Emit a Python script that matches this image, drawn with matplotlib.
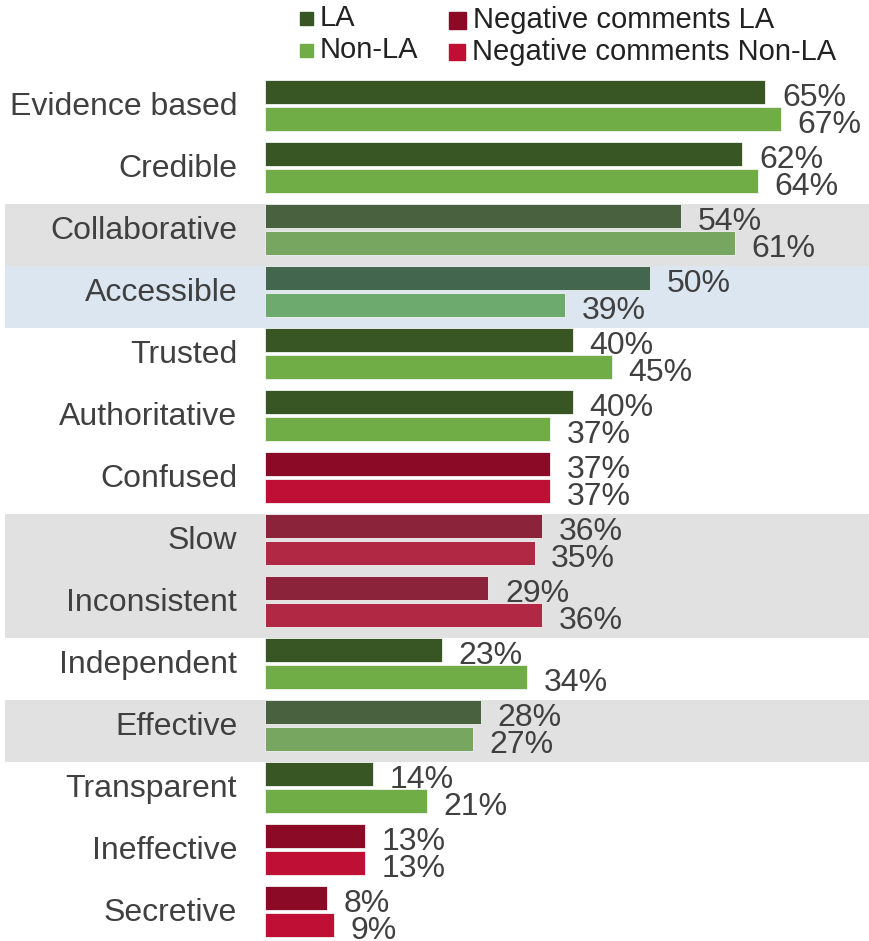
import matplotlib.pyplot as plt
from matplotlib.patches import Rectangle

plt.rcParams['font.family'] = ['Liberation Sans', 'DejaVu Sans']

categories = ["Evidence based", "Credible", "Collaborative", "Accessible", "Trusted",
              "Authoritative", "Confused", "Slow", "Inconsistent", "Independent",
              "Effective", "Transparent", "Ineffective", "Secretive"]
la = [65, 62, 54, 50, 40, 40, 37, 36, 29, 23, 28, 14, 13, 8]
non_la = [67, 64, 61, 39, 45, 37, 37, 35, 36, 34, 27, 21, 13, 9]

negative = ["Confused", "Slow", "Inconsistent", "Ineffective", "Secretive"]
grey_rows = ["Collaborative", "Slow", "Inconsistent", "Effective"]
blue_rows = ["Accessible"]

# colours: (LA, Non-LA) for plain / grey / blue rows
pos_colors = {"plain": ("#375623", "#70AD47"),
              "grey": ("#4A6140", "#76A660"),
              "blue": ("#42664E", "#6DAA6E")}
neg_colors = {"plain": ("#8B0A26", "#C00F34"),
              "grey": ("#8B243B", "#B02844")}
text_col = "#404040"

fig = plt.figure(figsize=(8.7, 9.41), dpi=100)
W, H = 870, 941
x0 = 265           # left edge of bars (px)
top = 80           # top of first row (px)
pitch = 62         # row height (px)
ax = fig.add_axes([x0 / W, 0, 1 - x0 / W, 1 - top / H])
ax.set_xlim(0, (W - x0) / 7.7)
ax.set_ylim((H - top) / pitch, 0)
ax.axis("off")

bh = 0.385
for i, cat in enumerate(categories):
    kind = "grey" if cat in grey_rows else "blue" if cat in blue_rows else "plain"
    if kind != "plain":
        ax.axhspan(i, i + 1, xmin=-(x0 - 5) / (W - x0), xmax=1, color="#E1E1E1" if kind == "grey" else "#DCE6F0",
                   zorder=0, clip_on=False, lw=0)
    c1, c2 = (neg_colors if cat in negative else pos_colors)[kind]
    y1, y2 = i + 0.005 + bh / 2, i + 0.44 + bh / 2
    ax.barh(y1, la[i], height=bh, color=c1, edgecolor="#f2f2f2", linewidth=0.6, zorder=2)
    ax.barh(y2, non_la[i], height=bh, color=c2, edgecolor="#f2f2f2", linewidth=0.6, zorder=2)
    ax.annotate(f"{la[i]}%", (la[i], y1), xytext=(12, -4), textcoords="offset points",
                va="center", ha="left", fontsize=23, color=text_col)
    ax.annotate(f"{non_la[i]}%", (non_la[i], y2), xytext=(12, -4), textcoords="offset points",
                va="center", ha="left", fontsize=23, color=text_col)
    ax.annotate(cat, (0, i + 0.43), xytext=(-20, 0), textcoords="offset points",
                va="center", ha="right", fontsize=23, color=text_col)

# legend
legend_items = [("LA", pos_colors["plain"][0], 300, 18, 13),
                ("Non-LA", pos_colors["plain"][1], 300, 50, 13),
                ("Negative comments LA", neg_colors["plain"][0], 449, 20, 17),
                ("Negative comments Non-LA", neg_colors["plain"][1], 449, 52, 16)]
for label, col, lx, ly, s in legend_items:
    fig.add_artist(Rectangle((lx / W, 1 - (ly + s / 2) / H), s / W, s / H,
                             transform=fig.transFigure, color=col))
    fig.text((lx + s + 7) / W, 1 - ly / H, label, fontsize=21, color="#222222",
             va="center", ha="left")

fig.savefig("out.png", dpi=100)
